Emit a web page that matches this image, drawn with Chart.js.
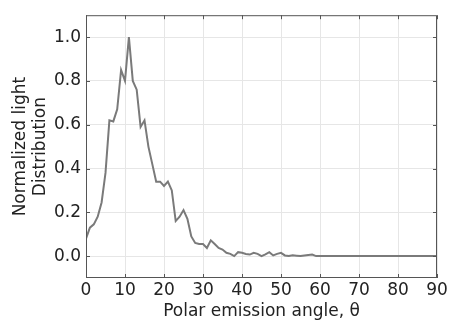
<!DOCTYPE html>
<html><head><meta charset="utf-8">
<script src="https://cdn.jsdelivr.net/npm/chart.js@4"></script>
<style>html,body{margin:0;padding:0;background:#fff}#w{width:454px;height:322px}</style>
</head><body><div id="w"><canvas id="c"></canvas></div>
<script>
const angles = [0,1,2,3,4,5,6,7,8,9,10,11,12,13,14,15,16,17,18,19,20,21,22,23,24,25,26,27,28,29,30,31,32,33,34,35,36,37,38,39,40,41,42,43,44,45,46,47,48,49,50,51,52,53,54,55,56,57,58,59,60,61,62,63,64,65,66,67,68,69,70,71,72,73,74,75,76,77,78,79,80,81,82,83,84,85,86,87,88,89,90];
const intensity = [0.08,0.13,0.145,0.18,0.245,0.38,0.62,0.615,0.67,0.85,0.80,1.0,0.80,0.76,0.59,0.62,0.50,0.42,0.34,0.34,0.32,0.34,0.30,0.16,0.18,0.21,0.17,0.09,0.06,0.055,0.055,0.037,0.072,0.055,0.037,0.03,0.015,0.01,0.0,0.018,0.015,0.01,0.007,0.015,0.01,0.0,0.008,0.018,0.003,0.01,0.015,0.003,0.0,0.004,0.002,0.0,0.003,0.005,0.007,0.0,0,0,0,0,0,0,0,0,0,0,0,0,0,0,0,0,0,0,0,0,0,0,0,0,0,0,0,0,0,0,0];
const xTicks = [0,10,20,30,40,50,60,70,80,90];
const yTicks = [0.0,0.2,0.4,0.6,0.8,1.0];
const xTitle = 'Polar emission angle, θ';
const yTitle = ['Normalized light','Distribution'];

const FONT = "'DejaVu Sans', sans-serif";
const frame = {
  id:'frame',
  afterDraw(chart){
    const {ctx, chartArea:a, scales:{x,y}} = chart;
    ctx.save();
    ctx.strokeStyle='#555'; ctx.lineWidth=1;
    ctx.strokeRect(a.left+0.5,a.top+0.5,a.right-a.left-1,a.bottom-a.top-1);
    ctx.beginPath();
    xTicks.forEach(v=>{const p=Math.round(x.getPixelForValue(v))+0.5;
      ctx.moveTo(p,a.bottom);ctx.lineTo(p,a.bottom-4);ctx.moveTo(p,a.top);ctx.lineTo(p,a.top+4);});
    yTicks.forEach(v=>{const p=Math.round(y.getPixelForValue(v))+0.5;
      ctx.moveTo(a.left,p);ctx.lineTo(a.left+4,p);ctx.moveTo(a.right,p);ctx.lineTo(a.right-4,p);});
    ctx.stroke();
    ctx.restore();
  }
};
new Chart(document.getElementById('c'),{
  type:'line',
  data:{datasets:[{data:angles.map((a,i)=>({x:a,y:intensity[i]})),borderColor:'#7a7a7a',borderWidth:2,pointRadius:0,tension:0,fill:false}]},
  options:{
    responsive:true, maintainAspectRatio:false, animation:false,
    layout:{padding:{top:7,right:17,left:0,bottom:0}},
    plugins:{legend:{display:false},tooltip:{enabled:false}},
    scales:{
      x:{type:'linear',min:0,max:90,
        afterBuildTicks(s){s.ticks=xTicks.map(v=>({value:v}));},
        afterFit(s){s.height=44;},
        ticks:{font:{family:FONT,size:17},color:'#222',padding:2,maxRotation:0,autoSkip:false},
        grid:{color:'#e6e6e6',drawTicks:false,tickLength:0},
        border:{display:false},
        title:{display:true,text:xTitle,font:{family:FONT,size:17},color:'#222',padding:{top:0,bottom:0}}
      },
      y:{type:'linear',min:-0.1,max:1.1,
        afterBuildTicks(s){s.ticks=yTicks.map(v=>({value:v}));},
        afterFit(s){s.width=86;},
        ticks:{font:{family:FONT,size:17},color:'#222',padding:5,callback:v=>v.toFixed(1)},
        grid:{color:'#e6e6e6',drawTicks:false,tickLength:0},
        border:{display:false},
        title:{display:true,text:yTitle,font:{family:FONT,size:17,lineHeight:1.2},color:'#222',padding:{top:10,bottom:0}}
      }
    }
  },
  plugins:[frame]
});
</script></body></html>
